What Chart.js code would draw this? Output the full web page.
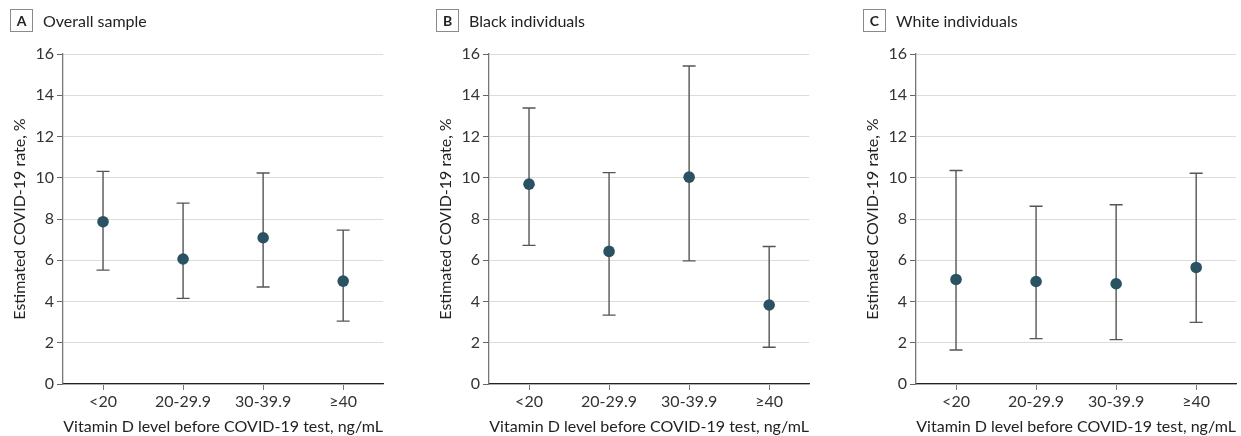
<!DOCTYPE html>
<html>
<head>
    <title>Vitamin D and COVID-19</title>
    <meta charset="UTF-8">
    <script src="https://cdn.jsdelivr.net/npm/chart.js@4.4.0/dist/chart.umd.min.js"></script>
    <style>
        body { margin: 0; width: 1241px; height: 436px; overflow: hidden; background: #fff; font-family: Lato, sans-serif; }
        .panel { position: absolute; top: 0; width: 389px; height: 436px; }
        .panel canvas { position: absolute; left: 0; top: 0; }
        .head { position: absolute; left: 10px; top: 9px; height: 23px; display: flex; align-items: center; color: #222; font-size: 16px; z-index: 2; }
        .head b { display: inline-block; width: 21px; height: 21px; border: 1px solid #8a8a8a; text-align: center; line-height: 21px; font-size: 14px; margin-right: 10px; }
    </style>
</head>
<body>
    <div class="panel" style="left:0px"><div class="head"><b>A</b>Overall sample</div><canvas id="chartA" width="389" height="436"></canvas></div>
    <div class="panel" style="left:426px"><div class="head"><b>B</b>Black individuals</div><canvas id="chartB" width="389" height="436"></canvas></div>
    <div class="panel" style="left:853px"><div class="head"><b>C</b>White individuals</div><canvas id="chartC" width="389" height="436"></canvas></div>
    <script>
        const categories = ['<20', '20-29.9', '30-39.9', '≥40'];

        const overallRate = [7.87, 6.06, 7.09, 4.99];
        const overallLower = [5.52, 4.15, 4.70, 3.05];
        const overallUpper = [10.31, 8.77, 10.23, 7.46];

        const blackRate = [9.69, 6.43, 10.03, 3.83];
        const blackLower = [6.72, 3.34, 5.97, 1.78];
        const blackUpper = [13.38, 10.25, 15.42, 6.67];

        const whiteRate = [5.07, 4.97, 4.86, 5.65];
        const whiteLower = [1.65, 2.20, 2.15, 2.99];
        const whiteUpper = [10.35, 8.62, 8.69, 10.22];

        const yTicks = [0, 2, 4, 6, 8, 10, 12, 14, 16];

        // error bars drawn from the scales before the points
        const errorBars = {
            id: 'errorBars',
            beforeDatasetsDraw(chart) {
                const ctx = chart.ctx;
                const xs = chart.scales.x, ys = chart.scales.y;
                const lo = chart.options.plugins.errorBars.lower;
                const hi = chart.options.plugins.errorBars.upper;
                ctx.save();
                ctx.strokeStyle = '#555';
                ctx.lineWidth = 1.4;
                for (let i = 0; i < lo.length; i++) {
                    const x = xs.getPixelForValue(i);
                    const y1 = ys.getPixelForValue(lo[i]);
                    const y2 = ys.getPixelForValue(hi[i]);
                    ctx.beginPath();
                    ctx.moveTo(x, y1); ctx.lineTo(x, y2);
                    ctx.moveTo(x - 6.5, y1); ctx.lineTo(x + 6.5, y1);
                    ctx.moveTo(x - 6.5, y2); ctx.lineTo(x + 6.5, y2);
                    ctx.stroke();
                }
                ctx.restore();
            }
        };

        function drawChart(id, rate, lower, upper) {
            const ctx = document.getElementById(id).getContext('2d');
            return new Chart(ctx, {
                type: 'line',
                data: {
                    labels: categories,
                    datasets: [{
                        data: rate,
                        showLine: false,
                        pointRadius: 5.8,
                        pointHoverRadius: 5.8,
                        pointBackgroundColor: '#2b5262',
                        pointBorderColor: '#2b5262',
                        pointBorderWidth: 0
                    }]
                },
                options: {
                    responsive: false,
                    animation: false,
                    layout: { padding: { top: 54, left: 0, right: 1, bottom: 0 } },
                    plugins: {
                        legend: { display: false },
                        tooltip: { enabled: false },
                        errorBars: { lower: lower, upper: upper }
                    },
                    scales: {
                        x: {
                            offset: true,
                            grid: { drawOnChartArea: false, tickLength: 6, tickColor: '#777', offset: false },
                            border: { color: '#222', width: 1.3 },
                            ticks: { color: '#333', padding: 2, font: { family: 'Lato', size: 16 } },
                            title: { display: true, text: 'Vitamin D level before COVID-19 test, ng/mL', color: '#222',
                                     font: { family: 'Lato', size: 16 }, padding: { top: 0, bottom: 0 } },
                            afterFit(s) { s.height = 52; }
                        },
                        y: {
                            min: 0, max: 16,
                            afterBuildTicks(s) { s.ticks = yTicks.map(v => ({ value: v })); },
                            grid: { color: '#dcdcdc', lineWidth: 1, tickLength: 6, tickColor: '#666' },
                            border: { color: '#777', width: 1.3 },
                            ticks: { color: '#333', padding: 3, font: { family: 'Lato', size: 16 } },
                            title: { display: true, text: 'Estimated COVID-19 rate, %', color: '#222',
                                     font: { family: 'Lato', size: 16 }, padding: { top: 10, bottom: 0 } },
                            afterFit(s) { s.width = 63; }
                        }
                    }
                },
                plugins: [errorBars]
            });
        }

        drawChart('chartA', overallRate, overallLower, overallUpper);
        drawChart('chartB', blackRate, blackLower, blackUpper);
        drawChart('chartC', whiteRate, whiteLower, whiteUpper);
    </script>
</body>
</html>
